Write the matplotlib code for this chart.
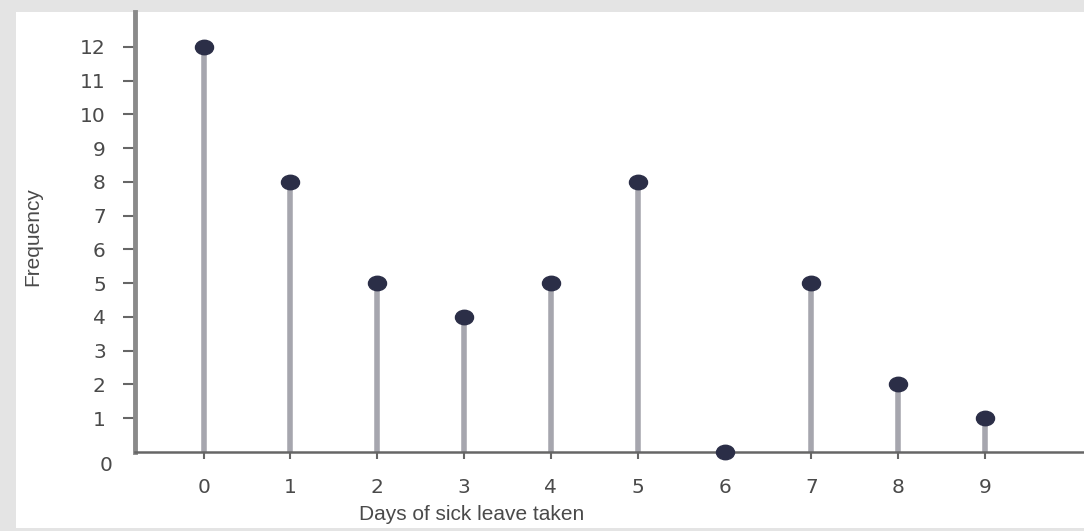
import matplotlib.pyplot as plt
from matplotlib.patches import Rectangle
from matplotlib.path import Path
from matplotlib.transforms import Affine2D

# Data
days = [0, 1, 2, 3, 4, 5, 6, 7, 8, 9]
frequency = [12, 8, 5, 4, 5, 8, 0, 5, 2, 1]
y_ticks = list(range(1, 13))

plt.rcParams['font.family'] = ['Liberation Sans', 'DejaVu Sans']

text_color = '#4a4a4a'
stem_color = '#a6a6ae'
dot_color = '#2b2e47'

# slightly flattened dot, like the reference
ellipse = Path.unit_circle().transformed(Affine2D().scale(1.0, 0.8))

fig = plt.figure(figsize=(10.84, 5.31), dpi=100, facecolor='#e4e4e4')

# white card inside the grey frame
fig.patches.append(Rectangle((16 / 1084, 3 / 531), 1 - 16 / 1084, 516 / 531,
                             transform=fig.transFigure, facecolor='white',
                             edgecolor='none', zorder=0))

ax = fig.add_axes([135 / 1084, 79 / 531, 1 - 135 / 1084, 440 / 531])
ax.set_facecolor('none')
ax.set_zorder(2)

# stems and dots
ax.vlines(days, 0, frequency, colors=stem_color, linewidth=4, zorder=2)
ax.plot(days, frequency, linestyle='none', marker=ellipse, color=dot_color,
        markersize=13, clip_on=False, zorder=3)

ax.set_xlim(-0.79, 10.14)
ax.set_ylim(0, 13.03)

ax.set_xticks(days)
ax.set_yticks(y_ticks)
ax.tick_params(axis='y', direction='out', length=9, width=1.5,
               colors='#666666', labelcolor=text_color, labelsize=14.5, pad=12)
ax.tick_params(axis='x', direction='out', length=5, width=1.5,
               colors='#666666', labelcolor=text_color, labelsize=14.5, pad=14)
for lbl in ax.get_xticklabels() + ax.get_yticklabels():
    lbl.set_family('DejaVu Sans')

for side in ['top', 'right']:
    ax.spines[side].set_visible(False)
ax.spines['left'].set_color('#8a8a8a')
ax.spines['left'].set_linewidth(3.5)
ax.spines['bottom'].set_color('#666666')
ax.spines['bottom'].set_linewidth(1.8)

# the lone "0" sits below-left of the corner
ax.annotate('0', xy=(0, 0), xycoords='axes fraction', xytext=(-21, -10),
            textcoords='offset points', ha='center', va='center',
            fontsize=14.5, color=text_color, family='DejaVu Sans')

fig.text(33 / 1084, 1 - 237 / 531, 'Frequency', rotation=90, ha='center',
         va='center', fontsize=15, color=text_color)
fig.text(472 / 1084, 1 - 515 / 531, 'Days of sick leave taken', ha='center',
         va='center', fontsize=15, color=text_color)

plt.savefig('out.png', dpi=100, facecolor=fig.get_facecolor())
